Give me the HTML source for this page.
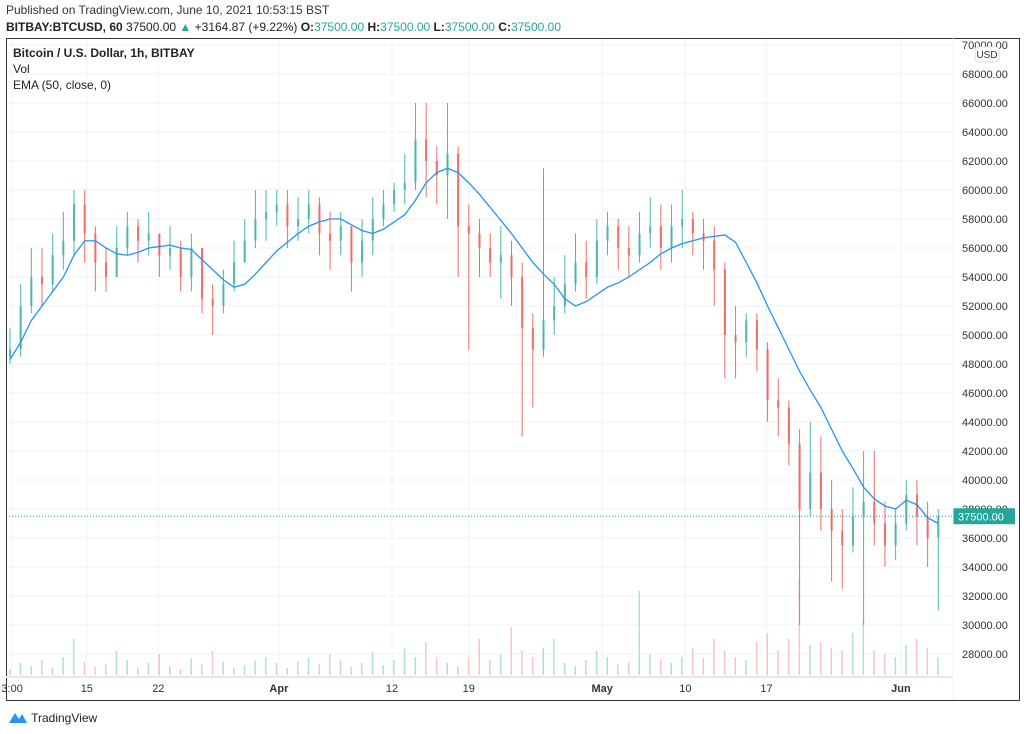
<!DOCTYPE html>
<html><head><meta charset="utf-8"><style>
body{margin:0;width:1024px;height:734px;background:#fff;font-family:"Liberation Sans",sans-serif;overflow:hidden;position:relative}
.t{position:absolute;white-space:nowrap}
</style></head><body>
<div class="t" style="left:6px;top:3px;font-size:12px;color:#333">Published on TradingView.com, June 10, 2021 10:53:15 BST</div>
<div class="t" style="left:6px;top:20px;font-size:12px;color:#222"><b>BITBAY:BTCUSD, 60</b> 37500.00 <span style="color:#26a69a">▲</span> +3164.87 (+9.22%) <b>O:</b><span style="color:#26a69a">37500.00</span> <b>H:</b><span style="color:#26a69a">37500.00</span> <b>L:</b><span style="color:#26a69a">37500.00</span> <b>C:</b><span style="color:#26a69a">37500.00</span></div>
<svg id="c" width="1024" height="734" style="position:absolute;left:0;top:0"></svg>
<div class="t" style="left:13px;top:46px;font-size:12px;color:#222;font-weight:bold">Bitcoin / U.S. Dollar, 1h, BITBAY</div>
<div class="t" style="left:13px;top:62px;font-size:12px;color:#222">Vol</div>
<div class="t" style="left:13px;top:78px;font-size:12px;color:#222">EMA (50, close, 0)</div>
<div class="t" style="left:8px;top:710px;font-size:12px;color:#222"><svg width="20" height="14" style="vertical-align:-2px"><path d="M1 13 L7 3 L11 9 L14 4 L19 13 Z" fill="#2196f3"/></svg> TradingView</div>
<script>
const closes=[49000,52000,54000,53500,55500,56500,59000,57000,55000,54000,56000,57500,56500,57000,55500,56000,54000,56000,52500,52000,53500,55000,56500,58000,58500,59000,57500,58000,59000,57000,56500,57500,55000,56500,58000,59000,60000,60500,63500,62000,61000,62500,57500,57000,56000,55000,55500,54000,50500,49000,51000,52000,53500,55000,54000,56500,57500,56000,55500,57000,57500,56000,57500,58000,57000,56500,54500,50000,49500,51000,49000,45500,45000,42500,38000,40500,38000,36500,35500,37500,38500,37000,35500,37000,39000,37500,36000,37500];
const highs=[50500,53500,56000,56000,57000,58500,60000,60000,57500,56000,57500,58500,58000,58500,57000,57500,56500,57000,56000,53500,54500,56500,58000,60000,60000,60000,60000,59500,60000,59500,58500,58500,57500,58000,59500,60000,60500,62500,66000,66000,63000,66000,63000,59000,58000,57000,57500,56500,55000,51500,61500,54000,55500,57000,56500,58000,58500,58000,57500,58500,59500,59000,59000,60000,58500,58000,57500,55000,52000,51500,51500,49500,47000,45500,43500,44000,43000,40000,38000,39500,42000,42000,38500,38000,40000,40000,38500,38000];
const lows=[48000,48500,51500,52000,53000,54500,55500,55000,53000,53000,54000,55500,55000,55500,54000,54500,53000,53000,51500,50000,51500,53000,55000,56000,56500,57500,56000,56500,57000,55500,54500,55500,53000,54000,55500,57500,58500,59000,60000,59500,59000,58000,54000,49000,54000,54000,52500,52000,43000,45000,48500,50000,51500,53000,52500,53500,55500,54500,54000,55000,56000,54500,55000,56000,55500,54500,52000,47000,47000,48500,47500,44000,43000,41000,30000,37500,36500,33000,32500,35000,30000,35500,34000,34500,36500,35500,34000,31000];
const ema=[48300,49500,51000,52000,53000,54000,55500,56500,56500,56000,55600,55500,55700,56000,56100,56200,56000,55900,55200,54500,53800,53300,53500,54200,55000,55800,56400,57000,57500,57800,58000,58000,57600,57200,57000,57300,57800,58300,59300,60500,61200,61500,61200,60500,59700,58800,57900,57000,56000,55000,54200,53500,52500,52000,52300,52800,53300,53600,54000,54500,55000,55600,56000,56300,56500,56700,56800,56900,56400,55000,53600,52000,50500,49000,47500,46200,45000,43500,42000,40800,39500,38700,38200,38000,38600,38300,37400,37000];
const vols=[10,20,15,25,12,30,60,22,14,18,40,25,12,20,35,15,10,28,18,40,22,12,16,24,30,20,12,22,28,18,35,24,14,20,38,16,25,45,30,55,28,20,15,30,60,25,35,80,40,30,45,60,20,15,25,40,30,18,22,140,35,25,20,30,45,28,60,40,30,25,55,70,40,60,160,50,55,45,40,70,90,40,35,30,50,60,45,30];
const tickVals=[70000,68000,66000,64000,62000,60000,58000,56000,54000,52000,50000,48000,46000,44000,42000,40000,38000,36000,34000,32000,30000,28000];
const dateLabels=["3:00","15","22","Apr","12","19","May","10","17","Jun"];
const dateIdx=[0.2,7.2,13.9,25.2,35.8,43,55.5,63.3,70.9,83.5];
const lastPrice=37500;
const svg=document.getElementById('c');
const NS='http://www.w3.org/2000/svg';
const X0=10,DX=10.67,PL=6,PR=953,PT=38,PB=676,VS=0.6;
const x=i=>X0+i*DX;
const y=v=>45+(70000-v)/2000*29;
const yv=v=>675-v*VS;
function mk(t,a,p){const e=document.createElementNS(NS,t);for(const k in a)e.setAttribute(k,a[k]);(p||svg).appendChild(e);return e;}
tickVals.forEach(v=>{const l=mk('line',{x1:PL,x2:PR,y1:y(v),y2:y(v),stroke:'#f0f3fa'});


const t=mk('text',{x:962,y:y(v)+4,'font-size':11,fill:'#333'});t.textContent=v.toFixed(2);

});
dateIdx.forEach((d,k)=>{const l=mk('line',{x1:x(d),x2:x(d),y1:PT,y2:PB,stroke:'#f0f3fa'});


const t=mk('text',{x:x(d),y:692,'font-size':11,fill:'#333','text-anchor':'middle','font-weight':(isNaN(+dateLabels[k])&&k>0)?'bold':'normal'});t.textContent=dateLabels[k];

});
vols.forEach((v,i)=>{const up=i==0||closes[i]>=closes[i-1];const r=mk('rect',{x:x(i)-1,y:yv(v),width:1.5,height:v*VS,fill:up?'#b2dfdb':'#f8c4c4'});

});
closes.forEach((c,i)=>{const o=i==0?c-500:closes[i-1];const up=c>=o;const col=up?'#4db6ac':'#ef6b68';
const g=mk('g',{});


mk('line',{x1:x(i),x2:x(i),y1:y(highs[i]),y2:y(lows[i]),stroke:col,'stroke-width':1},g);
mk('rect',{x:x(i)-1,y:y(Math.max(o,c)),width:2,height:Math.max(1,Math.abs(y(o)-y(c))),fill:col},g);});
const p=mk('polyline',{points:ema.map((v,i)=>x(i)+','+y(v)).join(' '),fill:'none',stroke:'#2196f3','stroke-width':1.3});


const lp=mk('line',{x1:PL,x2:PR,y1:y(lastPrice),y2:y(lastPrice),stroke:'#26a69a','stroke-dasharray':'1 2'});


const lb=mk('rect',{x:953,y:y(lastPrice)-8,width:62,height:16,fill:'#26a69a'});


const lt=mk('text',{x:958,y:y(lastPrice)+4,'font-size':11,fill:'#fff'});lt.textContent=lastPrice.toFixed(2);


const fr=mk('rect',{x:6.5,y:38.5,width:1013,height:662,fill:'none',stroke:'#333','stroke-width':1});


mk('line',{x1:953,x2:953,y1:38,y2:700,stroke:'#f0f3fa'});
mk('line',{x1:6,x2:953,y1:677,y2:677,stroke:'#e8e8e8','stroke-width':2});
const ub=mk('rect',{x:975,y:47,width:24,height:15,rx:3,fill:'#fff',stroke:'#ddd'});


const ut=mk('text',{x:987,y:58,'font-size':10,fill:'#333','text-anchor':'middle'});ut.textContent='USD';


</script>
</body></html>
